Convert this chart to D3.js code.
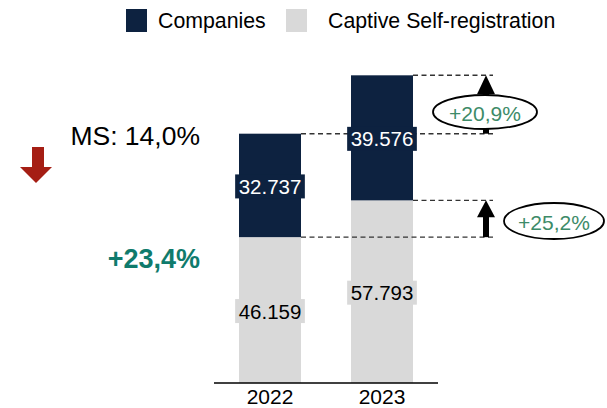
<!DOCTYPE html>
<html><head><meta charset="utf-8">
<script src="https://cdn.jsdelivr.net/npm/d3@7"></script>
<style>html,body{margin:0;padding:0;background:#fff}svg{display:block;font-family:"Liberation Sans",Arial,sans-serif}</style>
</head><body><svg id="c" width="607" height="408"></svg>
<script>
const years = ["2022", "2023"];
const captive = [46159, 57793];
const companies = [32737, 39576];
const seriesNames = ["Companies", "Captive Self-registration"];
const growthCompanies = "+20,9%";
const growthCaptive = "+25,2%";
const msLabel = "MS: 14,0%";
const totalGrowth = "+23,4%";

const navy = "#0d2240", grey = "#d9d9d9", red = "#a51e14", teal = "#0f7b6c", green = "#3d8b68";
const svg = d3.select("#c");
const loc = d3.formatLocale({decimal: ",", thousands: ".", grouping: [3], currency: ["", ""]});
const fmt = loc.format(",d");

const x = d3.scaleBand().domain(years).range([214, 438]).paddingInner(0.4464).paddingOuter(0.2232);
const y = d3.scaleLinear().domain([0, 100000]).range([383, 67]);

const stack = years.map((yr, i) => ({yr, cap: captive[i], comp: companies[i], tot: captive[i] + companies[i]}));

const bars = svg.append("g");
bars.selectAll("rect.cap").data(stack).join("rect").attr("class", "cap")
  .attr("x", d => x(d.yr)).attr("width", x.bandwidth())
  .attr("y", d => y(d.cap)).attr("height", d => y(0) - y(d.cap)).attr("fill", grey);
bars.selectAll("rect.comp").data(stack).join("rect").attr("class", "comp")
  .attr("x", d => x(d.yr)).attr("width", x.bandwidth())
  .attr("y", d => y(d.tot)).attr("height", d => y(d.cap) - y(d.tot)).attr("fill", navy);

// dashed guide lines
const gl = svg.append("g").attr("stroke", "#333").attr("stroke-width", 1.4).attr("stroke-dasharray", "5,3.5");
const xr0 = x("2022") + x.bandwidth(), xr1 = x("2023") + x.bandwidth(), xEnd = 493;
[[xr0, stack[0].cap], [xr0, stack[0].tot], [xr1, stack[1].cap], [xr1, stack[1].tot]].forEach(([x1, v]) => {
  gl.append("line").attr("x1", x1).attr("x2", xEnd).attr("y1", y(v)).attr("y2", y(v));
});

// axis
svg.append("line").attr("x1", 214).attr("x2", 438).attr("y1", y(0)).attr("y2", y(0)).attr("stroke", "#000").attr("stroke-width", 1.5);
svg.selectAll("text.yr").data(years).join("text").attr("class", "yr")
  .attr("x", d => x(d) + x.bandwidth() / 2).attr("y", 404).attr("text-anchor", "middle")
  .attr("font-size", 21).attr("fill", "#000").text(d => d);

// value labels with boxes
function boxLabel(cx, cy, txt, bg, fg) {
  const g = svg.append("g");
  const r = g.append("rect").attr("fill", bg);
  const t = g.append("text").attr("x", cx).attr("y", cy).attr("text-anchor", "middle")
    .attr("dominant-baseline", "central").attr("font-size", 20.5).attr("fill", fg).text(txt);
  const b = t.node().getBBox();
  r.attr("x", b.x - 3.5).attr("y", cy - 12).attr("width", b.width + 7).attr("height", 24);
}
stack.forEach(d => {
  const cx = x(d.yr) + x.bandwidth() / 2;
  boxLabel(cx, (y(0) + y(d.cap)) / 2 + 1, fmt(d.cap), grey, "#000");
  boxLabel(cx, (y(d.cap) + y(d.tot)) / 2 + 1, fmt(d.comp), navy, "#fff");
});

// arrows
function upArrow(ax, yTop, yBot, headH) {
  svg.append("rect").attr("x", ax - 3).attr("width", 6).attr("y", yTop + headH - 1).attr("height", yBot - yTop - headH + 1).attr("fill", "#000");
  svg.append("path").attr("d", `M${ax - 9},${yTop + headH}L${ax},${yTop}L${ax + 9},${yTop + headH}Z`).attr("fill", "#000");
}
upArrow(486, y(stack[1].tot), y(stack[0].tot), 19);
upArrow(486, y(stack[1].cap), y(stack[0].cap), 17);

function ellipseLabel(cx, cy, rx, ry, txt) {
  svg.append("ellipse").attr("cx", cx).attr("cy", cy).attr("rx", rx).attr("ry", ry)
    .attr("fill", "#fff").attr("stroke", "#000").attr("stroke-width", 1.8);
  svg.append("text").attr("x", cx).attr("y", cy + 1).attr("dominant-baseline", "central").attr("text-anchor", "middle")
    .attr("font-size", 21).attr("fill", green).text(txt);
}
ellipseLabel(485, 112, 52, 17, growthCompanies);
ellipseLabel(554, 221, 50, 18, growthCaptive);

// left annotations
svg.append("text").attr("x", 200).attr("y", 145).attr("text-anchor", "end").attr("font-size", 26.5).attr("fill", "#000").text(msLabel);
svg.append("path").attr("d", "M32,147H44V167H52L36,183L20,167H32Z").attr("fill", red);
svg.append("text").attr("x", 200).attr("y", 268).attr("text-anchor", "end").attr("font-size", 27).attr("font-weight", "bold").attr("fill", teal).text(totalGrowth);

// legend
const leg = [{n: seriesNames[0], c: navy, x: 126, tx: 158}, {n: seriesNames[1], c: grey, x: 286, tx: 328}];
leg.forEach(l => {
  svg.append("rect").attr("x", l.x).attr("y", 9).attr("width", 21).attr("height", 23).attr("fill", l.c);
  svg.append("text").attr("x", l.tx).attr("y", 28).attr("font-size", 21.3).attr("fill", "#000").text(l.n);
});
</script></body></html>
